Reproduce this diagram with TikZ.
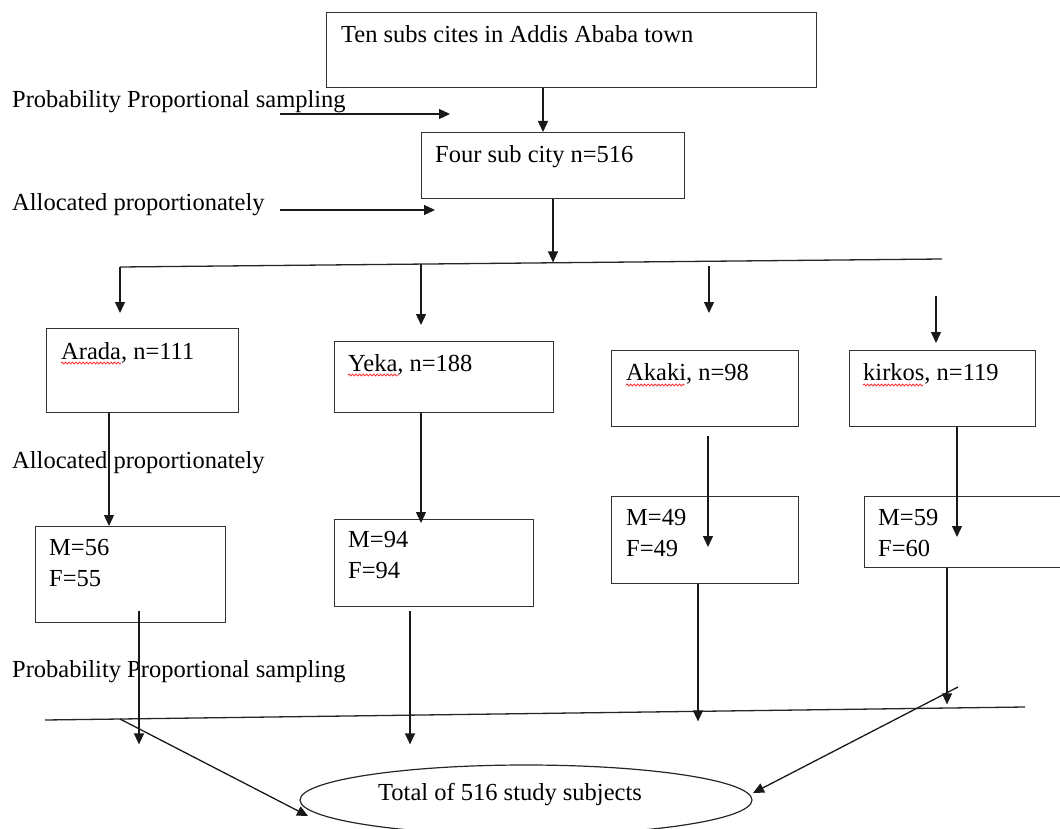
\documentclass[tikz,border=0pt]{standalone}
\usepackage{fontspec}
\setmainfont{Liberation Serif}
\usetikzlibrary{positioning,calc,arrows.meta,shapes.geometric,decorations.pathmorphing}

\begin{document}
\begin{tikzpicture}[
  x=1pt, y=-1pt,
  font=\fontsize{24.5}{28}\selectfont,
  box/.style={draw=black!80, line width=1.4pt, anchor=north west, inner sep=0pt},
  txt/.style={anchor=base west, inner sep=0pt},
  arr/.style={-{Triangle[length=11pt,width=10pt]}, black!90, line width=1.3pt},
  rule/.style={black!85, line width=1.3pt},
  ell/.style={draw=black!85, line width=1.2pt, ellipse, inner sep=0pt, minimum width=452pt, minimum height=70pt},
  spell/.style={red!80, line width=0.8pt, decorate, decoration={snake, amplitude=1pt, segment length=3.5pt}},
]
\clip (0,0) rectangle (1060,829);
% ---- top of the flow ----
\node[box, minimum width=490pt, minimum height=75pt] (city) at (326,12) {};
\node[txt] (cityT) at ($(city.north west)+(15,31)$) {Ten subs cites in Addis Ababa town};
\node[box, minimum width=263pt, minimum height=66pt] (four) at (421,132) {};
\node[txt] (fourT) at ($(four.north west)+(14,31)$) {Four sub city n=516};
% ---- side labels ----
\node[txt] (pps1) at (12,108) {Probability Proportional sampling};
\node[txt] (alloc1) at (12,211) {Allocated proportionately};
\node[txt] (alloc2) at (12,468) {Allocated proportionately};
\node[txt] (pps2) at (12,677) {Probability Proportional sampling};
% ---- sub cities ----
\node[box, minimum width=192pt, minimum height=84pt] (arada) at (46,328) {};
\node[txt] (aradaT) at ($(arada.north west)+(15,31)$) {Arada, n=111};
\node[box, minimum width=219pt, minimum height=71pt] (yeka) at (334,341) {};
\node[txt] (yekaT) at ($(yeka.north west)+(14,30)$) {Yeka, n=188};
\node[box, minimum width=187pt, minimum height=76pt] (akaki) at (611,350) {};
\node[txt] (akakiT) at ($(akaki.north west)+(15,30)$) {Akaki, n=98};
\node[box, minimum width=186pt, minimum height=76pt] (kirkos) at (849,350) {};
\node[txt] (kirkosT) at ($(kirkos.north west)+(14,30)$) {kirkos, n=119};
% spelling marks
\draw[spell] ($(aradaT.base west)+(0,4)$) -- ++(60,0);
\draw[spell] ($(yekaT.base west)+(0,4)$) -- ++(51,0);
\draw[spell] ($(akakiT.base west)+(0,5)$) -- ++(59,0);
\draw[spell] ($(kirkosT.base west)+(0,5)$) -- ++(60,0);
% ---- male / female split ----
\node[box, minimum width=190pt, minimum height=96pt] (aradaMF) at (35,526) {};
\node[txt] (aradaM) at ($(aradaMF.north west)+(14,29)$) {M=56};
\node[txt] (aradaF) at ($(aradaM.base west)+(0,31)$) {F=55};
\node[box, minimum width=199pt, minimum height=87pt] (yekaMF) at (334,519) {};
\node[txt] (yekaM) at ($(yekaMF.north west)+(14,28)$) {M=94};
\node[txt] (yekaF) at ($(yekaM.base west)+(0,31)$) {F=94};
\node[box, minimum width=187pt, minimum height=87pt] (akakiMF) at (611,496) {};
\node[txt] (akakiM) at ($(akakiMF.north west)+(15,29)$) {M=49};
\node[txt] (akakiF) at ($(akakiM.base west)+(0,31)$) {F=49};
\node[box, minimum width=200pt, minimum height=71pt] (kirkosMF) at (864,496) {};
\node[txt] (kirkosM) at ($(kirkosMF.north west)+(14,29)$) {M=59};
\node[txt] (kirkosF) at ($(kirkosM.base west)+(0,31)$) {F=60};
% ---- total ----
\node[ell] (total) at (526,800) {};
\node[txt] (totalT) at ($(total.center)+(-148,0)$) {Total of 516 study subjects};
% ---- connectors ----
\coordinate (splitL) at (120,267);
\coordinate (splitR) at (942,259);
\coordinate (mergeL) at (45,720);
\coordinate (mergeR) at (1025,707);
\coordinate (diagL) at (120,719);
\coordinate (diagR) at (958,687);
\draw[arr] ([xshift=217pt]city.south west) -- ([xshift=122pt]four.north west);
\draw[arr] ([xshift=132pt]four.south west) -- ([xshift=132pt,yshift=-63pt]four.south west);
\draw[arr] ($(pps1.base west)+(268,6)$) -- ++(170,0);
\draw[arr] ($(alloc1.base west)+(268,-1)$) -- ++(155,0);
\draw[rule] (splitL) -- (splitR);
\draw[arr] (splitL) -- ([xshift=74pt,yshift=15pt]arada.north west);
\draw[arr] ([xshift=87pt,yshift=77pt]yeka.north west) -- ([xshift=87pt,yshift=16pt]yeka.north west);
\draw[arr] ([xshift=98pt,yshift=84pt]akaki.north west) -- ([xshift=98pt,yshift=37pt]akaki.north west);
\draw[arr] ([xshift=87pt,yshift=54pt]kirkos.north west) -- ([xshift=87pt,yshift=7pt]kirkos.north west);
\draw[arr] ([xshift=63pt]arada.south west) -- ([xshift=74pt]aradaMF.north west);
\draw[arr] ([xshift=87pt]yeka.south west) -- ([xshift=87pt,yshift=-4pt]yekaMF.north west);
\draw[arr] ([xshift=97pt,yshift=-9pt]akaki.south west) -- ([xshift=97pt,yshift=-51pt]akakiMF.north west);
\draw[arr] ([xshift=108pt]kirkos.south west) -- ([xshift=93pt,yshift=-41pt]kirkosMF.north west);
\draw[rule] (mergeL) -- (mergeR);
\draw[arr] ([xshift=104pt,yshift=12pt]aradaMF.south west) -- ([xshift=104pt,yshift=-121pt]aradaMF.south west);
\draw[arr] ([xshift=76pt,yshift=-4pt]yekaMF.south west) -- ([xshift=76pt,yshift=-137pt]yekaMF.south west);
\draw[arr] ([xshift=87pt]akakiMF.south west) -- ([xshift=87pt,yshift=-137pt]akakiMF.south west);
\draw[arr] ([xshift=83pt]kirkosMF.south west) -- ([xshift=83pt,yshift=-136pt]kirkosMF.south west);
\draw[arr] (diagL) -- ($(total.center)+(-218,16)$);
\draw[arr] (diagR) -- ($(total.center)+(227,-7)$);
\end{tikzpicture}
\end{document}
